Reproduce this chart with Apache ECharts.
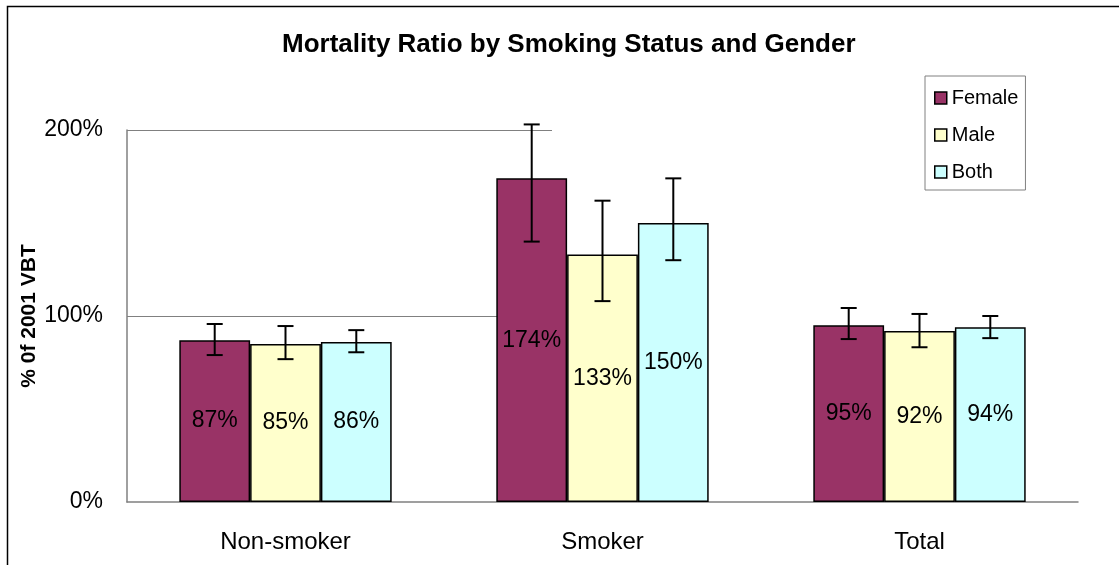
<!DOCTYPE html>
<html>
<head>
<meta charset="utf-8">
<script src="https://cdn.jsdelivr.net/npm/echarts@6/dist/echarts.min.js"></script>
<style>
  html, body { margin: 0; padding: 0; background: #fff; }
  #chart { width: 1119px; height: 565px; }
</style>
</head>
<body>
<div id="chart"></div>
<script>
// data
const categories = ['Non-smoker', 'Smoker', 'Total']
const seriesNames = ['Female', 'Male', 'Both']
const femaleValues = [0.87, 1.74, 0.95]
const maleValues = [0.85, 1.33, 0.92]
const bothValues = [0.86, 1.50, 0.94]
const femaleLow = [0.79, 1.40, 0.876]
const femaleHigh = [0.957, 2.03, 1.043]
const maleLow = [0.768, 1.08, 0.832]
const maleHigh = [0.946, 1.62, 1.011]
const bothLow = [0.805, 1.30, 0.881]
const bothHigh = [0.924, 1.74, 1.0]
const yTicks = [0, 1, 2]

const colors = ['#993366', '#FFFFCC', '#CCFFFF']
const font = '"Liberation Sans", Arial, sans-serif'
const groupFrac = 0.67 // share of a category band taken by the three bars

const chart = echarts.init(document.getElementById('chart'))

function barSeries(name, values, color) {
  return {
    name: name,
    type: 'bar',
    data: values,
    barGap: '0%',
    barCategoryGap: '33%',
    itemStyle: { color: color, borderColor: '#000', borderWidth: 1.5 },
    label: {
      show: true,
      position: 'inside',
      color: '#000',
      fontFamily: font,
      fontSize: 23,
      formatter: p => Math.round(p.value * 100) + '%'
    },
    z: 2
  }
}

// error bars drawn on top of each bar
function errorSeries(idx, low, high) {
  return {
    type: 'custom',
    name: seriesNames[idx] + ' error',
    data: low.map((v, i) => [i, v, high[i]]),
    encode: { x: 0, y: [1, 2] },
    z: 5,
    silent: true,
    renderItem: function (params, api) {
      const band = api.size([1, 0])[0]
      const offset = (idx - 1) * band * groupFrac / 3
      const lo = api.coord([api.value(0), api.value(1)])
      const hi = api.coord([api.value(0), api.value(2)])
      const x = lo[0] + offset
      const cap = 8
      const style = { stroke: '#000', lineWidth: 2 }
      return {
        type: 'group',
        children: [
          { type: 'line', shape: { x1: x, y1: hi[1], x2: x, y2: lo[1] }, style: style },
          { type: 'line', shape: { x1: x - cap, y1: hi[1], x2: x + cap, y2: hi[1] }, style: style },
          { type: 'line', shape: { x1: x - cap, y1: lo[1], x2: x + cap, y2: lo[1] }, style: style }
        ]
      }
    }
  }
}

const option = {
  animation: false,
  backgroundColor: '#fff',
  title: {
    text: 'Mortality Ratio by Smoking Status and Gender',
    left: 277,
    top: 27,
    textStyle: { fontFamily: font, fontSize: 26, fontWeight: 'bold', color: '#000' }
  },
  legend: {
    data: seriesNames,
    orient: 'vertical',
    left: 925,
    top: 76,
    padding: [12, 7, 8, 9],
    itemGap: 17,
    itemWidth: 12,
    itemHeight: 12,
    icon: 'rect',
    borderColor: '#808080',
    borderWidth: 1,
    itemStyle: { borderColor: '#000', borderWidth: 1.5 },
    textStyle: { fontFamily: font, fontSize: 20, color: '#000' }
  },
  grid: { left: 127, right: 41, top: 130, bottom: 63 },
  xAxis: {
    type: 'category',
    data: categories,
    axisLine: { lineStyle: { color: '#808080', width: 1.5 } },
    axisTick: { show: false },
    axisLabel: { margin: 28, fontFamily: font, fontSize: 24, color: '#000' }
  },
  yAxis: {
    type: 'value',
    min: yTicks[0],
    max: yTicks[yTicks.length - 1],
    interval: 1,
    name: '% 0f 2001 VBT',
    nameLocation: 'middle',
    nameGap: 87,
    nameMoveOverlap: false,
    nameTextStyle: { fontFamily: font, fontSize: 21, fontWeight: 'bold', color: '#000' },
    axisLine: { show: true, lineStyle: { color: '#808080', width: 1.5 } },
    axisTick: { show: false },
    splitLine: { show: false },
    axisLabel: {
      margin: 24,
      fontFamily: font,
      fontSize: 23,
      color: '#000',
      formatter: v => Math.round(v * 100) + '%'
    }
  },
  series: [
    barSeries(seriesNames[0], femaleValues, colors[0]),
    barSeries(seriesNames[1], maleValues, colors[1]),
    barSeries(seriesNames[2], bothValues, colors[2]),
    errorSeries(0, femaleLow, femaleHigh),
    errorSeries(1, maleLow, maleHigh),
    errorSeries(2, bothLow, bothHigh)
  ]
}

chart.setOption(option)

// outer frame and the short gridlines (they stop partway across in the original)
const gridEndX = 552
const gridLeftX = option.grid.left
const gridGraphics = yTicks.slice(1).map(v => {
  const y = Math.round(chart.convertToPixel({ yAxisIndex: 0 }, v)) + 0.5
  return {
    type: 'line',
    z: 0,
    shape: { x1: gridLeftX, y1: y, x2: gridEndX, y2: y },
    style: { stroke: '#808080', lineWidth: 1 }
  }
})

chart.setOption({
  graphic: [
    {
      type: 'rect',
      shape: { x: 7.5, y: 6.5, width: 1300, height: 800 },
      style: { fill: 'none', stroke: '#000', lineWidth: 1.5 },
      z: 10
    }
  ].concat(gridGraphics)
})
</script>
</body>
</html>
